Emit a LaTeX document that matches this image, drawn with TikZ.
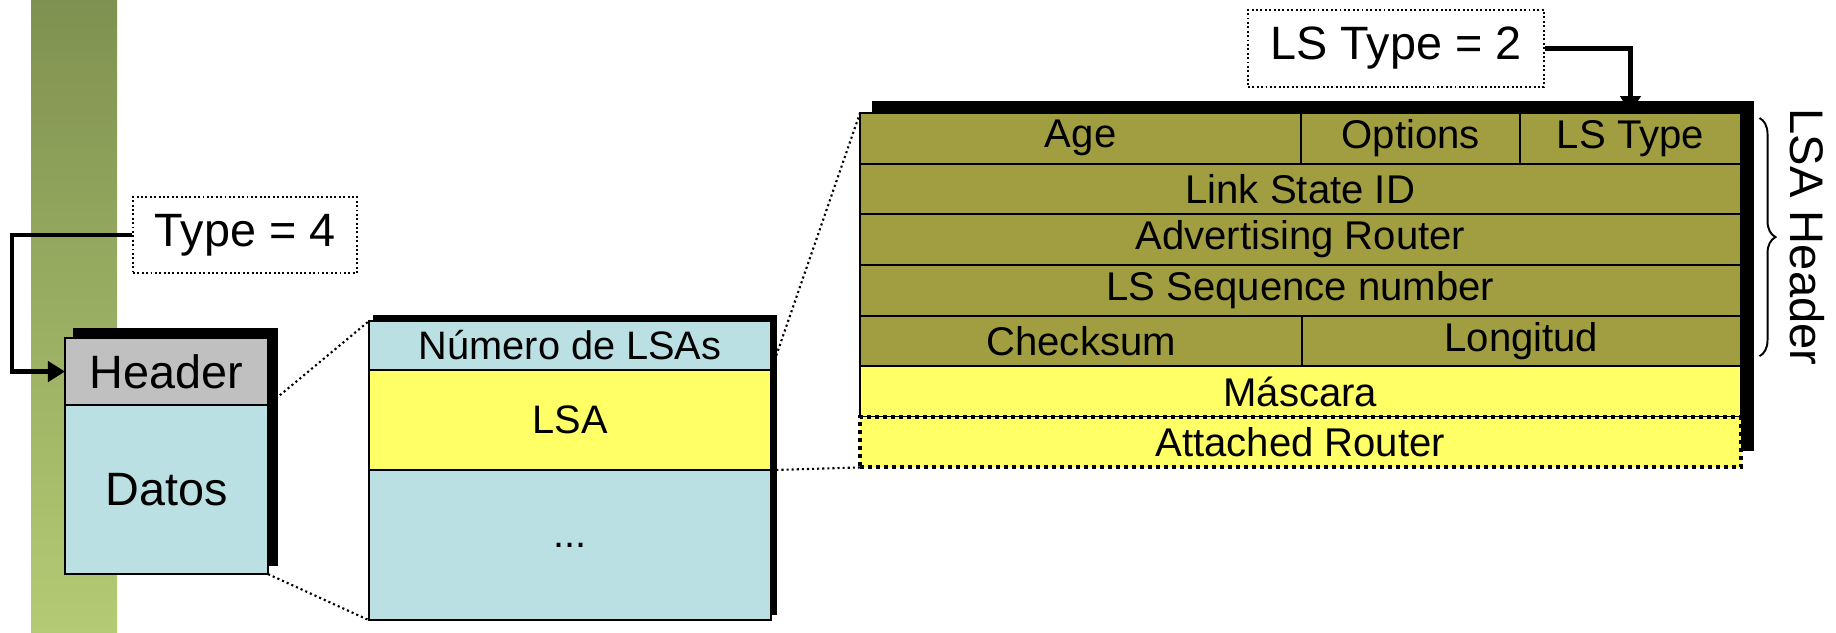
\documentclass[tikz,border=0pt]{standalone}
\usepackage{fontspec}
\setmainfont{Liberation Sans}
\usetikzlibrary{positioning, arrows.meta, calc, backgrounds, decorations.pathreplacing}

\definecolor{barTop}{RGB}{127,145,80}
\definecolor{barBottom}{RGB}{180,203,116}
\definecolor{hdrGrey}{RGB}{192,192,192}
\definecolor{dataCyan}{RGB}{186,224,227}
\definecolor{lsaYellow}{RGB}{255,255,102}
\definecolor{fieldOlive}{RGB}{161,158,66}

\begin{document}
\begin{tikzpicture}[
  x=0.01cm, y=-0.01cm,
  cell/.style     = {draw, line width=0.55pt, inner sep=0pt, outer sep=0pt, anchor=north west},
  big/.style      = {font=\fontsize{13.3}{15}\selectfont},
  mid/.style      = {font=\fontsize{11.3}{13}\selectfont},
  small/.style    = {font=\fontsize{11.4}{13}\selectfont},
  field/.style    = {cell, small, fill=fieldOlive, minimum height=0.506cm},
  wide/.style     = {minimum width=8.8cm},
  dotbox/.style   = {draw, line width=0.55pt, dash pattern=on 0.55pt off 0.7pt,
                     inner sep=0pt, minimum height=0.76cm, big},
  zoomline/.style = {line width=0.6pt, dash pattern=on 0.6pt off 0.85pt},
  tag/.style      = {line width=1.3pt, -{Triangle[length=0.17cm, width=0.2cm]}},
  lsabrace/.style = {decorate, decoration={brace, amplitude=0.16cm}, line width=0.55pt}
]
\useasboundingbox (0,0) rectangle (1836,632);
% OSPF packet
\node[cell, big, fill=hdrGrey, minimum width=2.03cm, minimum height=0.67cm] (hdr) at (65,338) {Header};
\node[cell, big, fill=dataCyan, minimum width=2.03cm, minimum height=1.69cm, below=0pt of hdr] (datos) {Datos};
% LS Update body
\node[cell, mid, fill=dataCyan, minimum width=4.02cm, minimum height=0.49cm] (nlsa) at (369,321) {Número de LSAs};
\node[cell, mid, fill=lsaYellow, minimum width=4.02cm, minimum height=1.0cm, below=0pt of nlsa] (lsa) {LSA};
\node[cell, mid, fill=dataCyan, minimum width=4.02cm, minimum height=1.5cm, below=0pt of lsa] (rest) {...};
% Network LSA
\node[field, minimum width=4.41cm] (age) at (860,113) {Age};
\node[field, minimum width=2.19cm, right=0pt of age] (opts) {Options};
\node[field, minimum width=2.2cm, right=0pt of opts] (lstype) {LS Type};
\node[field, wide] (lsid) at (age.south west) {Link State ID};
\node[field, wide] (advr) at (lsid.south west) {Advertising Router};
\node[field, wide] (lsseq) at (advr.south west) {LS Sequence number};
\node[field, minimum width=4.42cm] (cksum) at (lsseq.south west) {Checksum};
\node[field, minimum width=4.38cm, right=0pt of cksum] (len) {Longitud};
\node[field, wide, fill=lsaYellow] (mask) at (cksum.south west) {Máscara};
\node[field, wide, fill=lsaYellow, line width=0.04cm, dash pattern=on 0.04cm off 0.04cm] (attr) at (mask.south west) {Attached Router};
% Type labels
\node[dotbox, minimum width=2.24cm] (type4) at (245,235) {Type = 4};
\node[dotbox, minimum width=2.96cm, minimum height=0.77cm] (lstype2) at (1396,48.5) {LS Type = 2};
\draw[tag] (type4.west) -- ++(-120,0) |- (hdr.west);
\draw[tag] (lstype2.east) -| (lstype.north);
% LSA header brace
\coordinate (bt) at ([shift={(19,5)}]lstype.north east);
\coordinate (bb) at ([shift={(19,-10)}]len.south east);
\draw[lsabrace] (bt) -- (bb);
\node[rotate=-90, font=\fontsize{13.4}{15}\selectfont] (lsahdr) at ($(bt)!0.5!(bb)+(48,0)$) {LSA Header};
% bar, zoom lines and shadows
\begin{scope}[on background layer]
  \shade[top color=barTop, bottom color=barBottom] (31,0) rectangle (117,632);
  \draw[zoomline] (hdr.south east) -- (nlsa.north west);
  \draw[zoomline] (datos.south east) -- (rest.south west);
  \draw[zoomline] (nlsa.south east) -- (age.north west);
  \draw[zoomline] (lsa.south east) -- (attr.south west);
  \fill ([shift={(8,-10)}]hdr.north west) rectangle ([shift={(10,-8)}]datos.south east);
  \fill ([shift={(4,-6)}]nlsa.north west) rectangle ([shift={(6,-5)}]rest.south east);
  \fill ([shift={(12,-12)}]age.north west) rectangle ([shift={(13,-16)}]attr.south east);
\end{scope}
\end{tikzpicture}
\end{document}
